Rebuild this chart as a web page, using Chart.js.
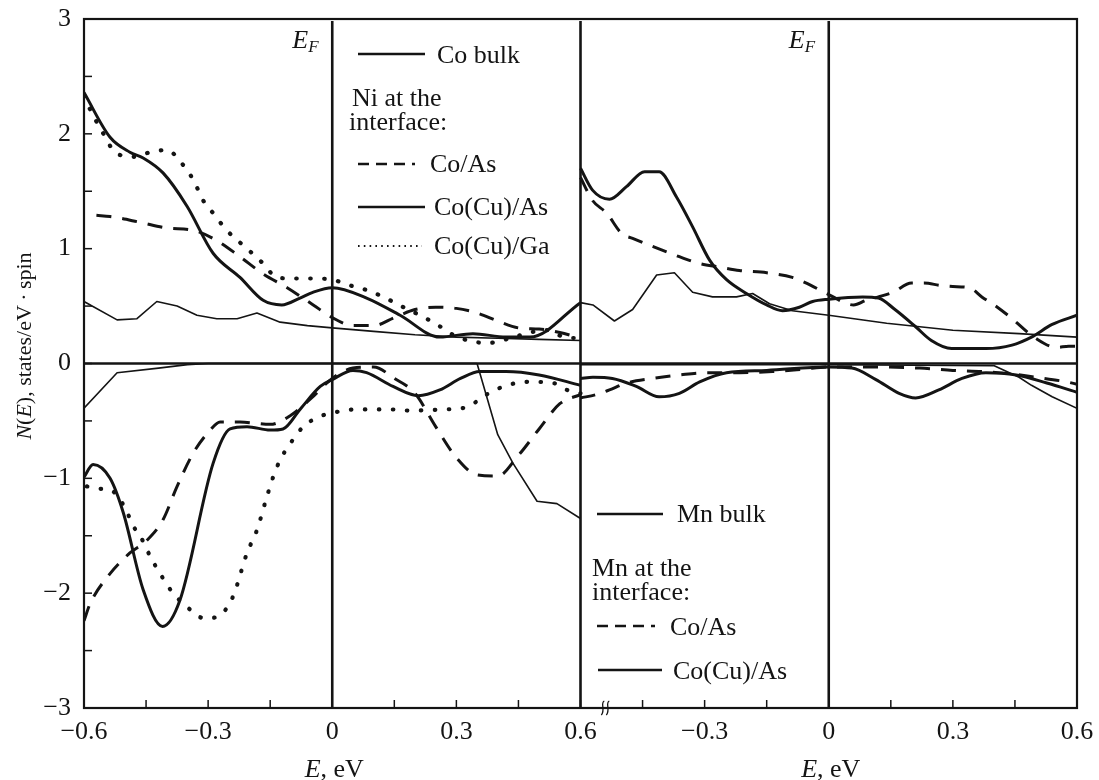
<!DOCTYPE html>
<html>
<head>
<meta charset="utf-8">
<script src="https://cdn.jsdelivr.net/npm/chart.js@4.4.1/dist/chart.umd.min.js"></script>
<style>
  html, body { margin: 0; padding: 0; background: #fff; }
  #wrap { width: 1099px; height: 780px; position: relative; }
</style>
</head>
<body>
<div id="wrap"><canvas id="dos"></canvas></div>
<script>
// Density of states N(E) (states/eV·spin); energies in eV relative to E_F.
// Left panel: Ni; right panel: Mn. Positive = spin up, negative = spin down.

// ---- Ni panel ----
const niBulkUpE = [-0.6, -0.52, -0.472, -0.424, -0.375, -0.327, -0.279, -0.23, -0.182, -0.126, -0.06, 0, 0.1, 0.2, 0.3, 0.4, 0.5, 0.6];
const niBulkUpN = [0.54, 0.38, 0.39, 0.54, 0.5, 0.42, 0.39, 0.39, 0.44, 0.36, 0.33, 0.31, 0.28, 0.25, 0.23, 0.22, 0.21, 0.2];
const niBulkDnE = [-0.6, -0.52, -0.42, -0.35, -0.3, 0.3, 0.35, 0.4, 0.437, 0.495, 0.543, 0.6];
const niBulkDnN = [-0.39, -0.08, -0.04, -0.01, 0, 0, 0, -0.62, -0.87, -1.2, -1.22, -1.35];

const niCoAsUpE = [-0.57, -0.537, -0.465, -0.4, -0.336, -0.279, -0.223, -0.167, -0.109, -0.046, 0, 0.05, 0.1, 0.15, 0.2, 0.25, 0.3, 0.35, 0.4, 0.45, 0.5, 0.55, 0.6];
const niCoAsUpN = [1.29, 1.28, 1.23, 1.18, 1.16, 1.07, 0.93, 0.78, 0.66, 0.51, 0.40, 0.33, 0.33, 0.40, 0.47, 0.49, 0.48, 0.44, 0.37, 0.31, 0.30, 0.27, 0.22];
const niCoAsDnE = [-0.6, -0.585, -0.537, -0.489, -0.448, -0.409, -0.375, -0.336, -0.295, -0.271, -0.223, -0.15, -0.1, -0.05, 0, 0.05, 0.1, 0.15, 0.2, 0.25, 0.3, 0.35, 0.4, 0.45, 0.5, 0.55, 0.6];
const niCoAsDnN = [-2.24, -2.09, -1.83, -1.65, -1.54, -1.36, -1.07, -0.78, -0.58, -0.51, -0.51, -0.53, -0.45, -0.3, -0.13, -0.04, -0.03, -0.13, -0.26, -0.55, -0.82, -0.97, -0.98, -0.8, -0.57, -0.35, -0.27];

const niCuAsUpE = [-0.6, -0.537, -0.489, -0.457, -0.409, -0.351, -0.288, -0.223, -0.167, -0.122, -0.078, -0.047, 0, 0.083, 0.164, 0.26, 0.34, 0.42, 0.478, 0.6];
const niCuAsUpN = [2.36, 1.97, 1.84, 1.79, 1.66, 1.37, 0.96, 0.75, 0.55, 0.51, 0.57, 0.62, 0.66, 0.57, 0.42, 0.23, 0.26, 0.23, 0.23, 0.53];
const niCuAsDnE = [-0.6, -0.578, -0.537, -0.505, -0.457, -0.41, -0.368, -0.288, -0.247, -0.206, -0.15, -0.119, -0.078, -0.029, 0, 0.05, 0.083, 0.147, 0.208, 0.26, 0.31, 0.357, 0.42, 0.5, 0.6];
const niCuAsDnN = [-0.99, -0.88, -1.0, -1.3, -1.97, -2.29, -2.06, -0.87, -0.57, -0.55, -0.58, -0.57, -0.4, -0.2, -0.14, -0.06, -0.08, -0.2, -0.28, -0.23, -0.13, -0.07, -0.07, -0.1, -0.19];

const niCuGaUpE = [-0.6, -0.585, -0.553, -0.525, -0.48, -0.44, -0.4, -0.363, -0.336, -0.312, -0.288, -0.255, -0.206, -0.167, -0.134, -0.094, -0.046, 0, 0.043, 0.083, 0.123, 0.172, 0.212, 0.253, 0.292, 0.34, 0.38, 0.43, 0.478, 0.52, 0.56, 0.6];
const niCuGaUpN = [2.33, 2.21, 2.0, 1.84, 1.8, 1.84, 1.86, 1.74, 1.6, 1.42, 1.31, 1.16, 1.0, 0.87, 0.75, 0.74, 0.74, 0.73, 0.68, 0.64, 0.58, 0.49, 0.42, 0.34, 0.25, 0.19, 0.18, 0.22, 0.27, 0.29, 0.23, 0.22];
const niCuGaDnE = [-0.593, -0.569, -0.537, -0.505, -0.48, -0.457, -0.44, -0.416, -0.387, -0.351, -0.308, -0.271, -0.24, -0.206, -0.182, -0.158, -0.143, -0.126, -0.102, -0.07, -0.029, 0, 0.058, 0.14, 0.188, 0.27, 0.325, 0.373, 0.422, 0.478, 0.534, 0.567, 0.6];
const niCuGaDnN = [-1.07, -1.09, -1.1, -1.23, -1.42, -1.55, -1.68, -1.83, -1.99, -2.12, -2.22, -2.19, -2.03, -1.65, -1.45, -1.16, -0.99, -0.84, -0.7, -0.55, -0.46, -0.43, -0.4, -0.4, -0.41, -0.4, -0.38, -0.27, -0.19, -0.16, -0.17, -0.23, -0.26];

// ---- Mn panel ----
const mnBulkUpE = [-0.6, -0.57, -0.518, -0.474, -0.416, -0.373, -0.329, -0.281, -0.223, -0.184, -0.143, -0.088, 0, 0.14, 0.3, 0.46, 0.6];
const mnBulkUpN = [0.53, 0.51, 0.37, 0.47, 0.77, 0.79, 0.62, 0.58, 0.58, 0.61, 0.52, 0.46, 0.42, 0.35, 0.29, 0.26, 0.23];
const mnBulkDnE = [-0.6, 0, 0.4, 0.46, 0.49, 0.54, 0.6];
const mnBulkDnN = [-0.01, -0.01, -0.02, -0.12, -0.19, -0.29, -0.39];

const mnCoAsUpE = [-0.6, -0.571, -0.537, -0.5, -0.474, -0.426, -0.361, -0.312, -0.264, -0.216, -0.15, -0.088, -0.054, 0, 0.06, 0.09, 0.12, 0.155, 0.2, 0.23, 0.27, 0.3, 0.34, 0.37, 0.4, 0.44, 0.5, 0.55, 0.58, 0.6];
const mnCoAsUpN = [1.62, 1.42, 1.31, 1.13, 1.09, 1.02, 0.93, 0.87, 0.84, 0.81, 0.79, 0.75, 0.70, 0.60, 0.51, 0.55, 0.58, 0.62, 0.70, 0.70, 0.68, 0.67, 0.66, 0.58, 0.51, 0.40, 0.22, 0.14, 0.15, 0.15];
const mnCoAsDnE = [-0.6, -0.561, -0.53, -0.489, -0.426, -0.361, -0.296, -0.216, -0.136, -0.063, 0, 0.1, 0.22, 0.3, 0.373, 0.44, 0.5, 0.575, 0.6];
const mnCoAsDnN = [-0.3, -0.27, -0.23, -0.17, -0.13, -0.1, -0.08, -0.08, -0.07, -0.05, -0.03, -0.03, -0.04, -0.06, -0.07, -0.09, -0.12, -0.16, -0.18];

const mnCuAsUpE = [-0.6, -0.571, -0.53, -0.489, -0.445, -0.41, -0.368, -0.329, -0.288, -0.247, -0.199, -0.15, -0.112, -0.071, -0.039, 0, 0.082, 0.12, 0.16, 0.21, 0.248, 0.297, 0.38, 0.443, 0.49, 0.54, 0.6];
const mnCuAsUpN = [1.70, 1.51, 1.43, 1.54, 1.67, 1.67, 1.45, 1.19, 0.90, 0.73, 0.61, 0.51, 0.46, 0.49, 0.54, 0.56, 0.58, 0.57, 0.47, 0.32, 0.2, 0.13, 0.13, 0.16, 0.23, 0.34, 0.42];
const mnCuAsDnE = [-0.6, -0.57, -0.523, -0.465, -0.41, -0.361, -0.312, -0.247, -0.15, 0, 0.056, 0.114, 0.17, 0.21, 0.266, 0.322, 0.38, 0.453, 0.527, 0.6];
const mnCuAsDnN = [-0.13, -0.12, -0.13, -0.2, -0.29, -0.26, -0.16, -0.08, -0.06, -0.03, -0.04, -0.14, -0.26, -0.3, -0.23, -0.13, -0.08, -0.1, -0.17, -0.25];

// ---- axes ----
// The two panels share one continuous axis: Ni at 0..1.2, Mn at 1.2..2.4.
const panelShift = { ni: 0.6, mn: 1.8 };
const xTickValues = [0, 0.3, 0.6, 0.9, 1.2, 1.5, 1.8, 2.1, 2.4];
const xTickLabels = ['\u22120.6', '\u22120.3', '0', '0.3', '0.6', '\u22120.3', '0', '0.3', '0.6'];
const fermiLines = [0.6, 1.8];
const panelDivider = 1.2;

const INK = '#141414';
const SERIF = '"Liberation Serif", "DejaVu Serif", serif';

function pts(E, N, shift) { return E.map((e, i) => ({ x: e + shift, y: N[i] })); }

const styles = {
  bulk:   { borderWidth: 1.6, borderDash: [], tension: 0 },
  coAs:   { borderWidth: 3, borderDash: [15, 11], cubicInterpolationMode: 'monotone' },
  cuAs:   { borderWidth: 3, borderDash: [], cubicInterpolationMode: 'monotone' },
  cuGa:   { borderWidth: 4.2, borderDash: [0.5, 13.5], borderCapStyle: 'round', cubicInterpolationMode: 'monotone' }
};
function ds(label, data, st) {
  return Object.assign({ label, data, borderColor: INK, backgroundColor: INK, pointRadius: 0,
    fill: false, borderCapStyle: 'butt', borderJoinStyle: 'round' }, st);
}

const datasets = [
  ds('Co bulk ↑', pts(niBulkUpE, niBulkUpN, panelShift.ni), styles.bulk),
  ds('Co bulk ↓', pts(niBulkDnE, niBulkDnN, panelShift.ni), styles.bulk),
  ds('Ni Co/As ↑', pts(niCoAsUpE, niCoAsUpN, panelShift.ni), styles.coAs),
  ds('Ni Co/As ↓', pts(niCoAsDnE, niCoAsDnN, panelShift.ni), styles.coAs),
  ds('Ni Co(Cu)/As ↑', pts(niCuAsUpE, niCuAsUpN, panelShift.ni), styles.cuAs),
  ds('Ni Co(Cu)/As ↓', pts(niCuAsDnE, niCuAsDnN, panelShift.ni), styles.cuAs),
  ds('Ni Co(Cu)/Ga ↑', pts(niCuGaUpE, niCuGaUpN, panelShift.ni), styles.cuGa),
  ds('Ni Co(Cu)/Ga ↓', pts(niCuGaDnE, niCuGaDnN, panelShift.ni), styles.cuGa),
  ds('Mn bulk ↑', pts(mnBulkUpE, mnBulkUpN, panelShift.mn), styles.bulk),
  ds('Mn bulk ↓', pts(mnBulkDnE, mnBulkDnN, panelShift.mn), styles.bulk),
  ds('Mn Co/As ↑', pts(mnCoAsUpE, mnCoAsUpN, panelShift.mn), styles.coAs),
  ds('Mn Co/As ↓', pts(mnCoAsDnE, mnCoAsDnN, panelShift.mn), styles.coAs),
  ds('Mn Co(Cu)/As ↑', pts(mnCuAsUpE, mnCuAsUpN, panelShift.mn), styles.cuAs),
  ds('Mn Co(Cu)/As ↓', pts(mnCuAsDnE, mnCuAsDnN, panelShift.mn), styles.cuAs)
];

// Draw a run of text pieces (some italic) starting at x, returning the end x.
function drawRuns(ctx, runs, x, y, size) {
  for (const r of runs) {
    ctx.font = (r.italic ? 'italic ' : '') + (r.size || size) + 'px ' + SERIF;
    ctx.fillText(r.t, x, y + (r.dy || 0));
    x += ctx.measureText(r.t).width;
  }
  return x;
}
function runsWidth(ctx, runs, size) {
  let w = 0;
  for (const r of runs) {
    ctx.font = (r.italic ? 'italic ' : '') + (r.size || size) + 'px ' + SERIF;
    w += ctx.measureText(r.t).width;
  }
  return w;
}
function sampleLine(ctx, x0, x1, y, kind) {
  ctx.save();
  ctx.strokeStyle = INK;
  if (kind === 'dash') { ctx.lineWidth = 2.4; ctx.setLineDash([11, 7]); }
  else if (kind === 'dot') { ctx.lineWidth = 1.8; ctx.setLineDash([1.6, 4.2]); }
  else { ctx.lineWidth = 2.4; }
  ctx.beginPath(); ctx.moveTo(x0, y); ctx.lineTo(x1, y); ctx.stroke();
  ctx.restore();
}

const decor = {
  id: 'decor',
  afterDatasetsDraw(chart) {
    const { ctx, chartArea: a, scales: { x, y } } = chart;
    ctx.save();
    ctx.strokeStyle = INK;
    ctx.fillStyle = INK;

    // zero line
    ctx.lineWidth = 2.6;
    ctx.beginPath();
    ctx.moveTo(a.left, y.getPixelForValue(0)); ctx.lineTo(a.right, y.getPixelForValue(0));
    ctx.stroke();

    // Fermi levels and panel divider
    ctx.lineWidth = 2.6;
    for (const v of fermiLines.concat([panelDivider])) {
      const px = x.getPixelForValue(v);
      ctx.beginPath(); ctx.moveTo(px, a.top + 2); ctx.lineTo(px, a.bottom); ctx.stroke();
    }

    // frame
    ctx.lineWidth = 2.2;
    ctx.strokeRect(a.left, a.top, a.right - a.left, a.bottom - a.top);

    // inward tick marks
    ctx.lineWidth = 1.5;
    for (let v = -3; v <= 3.001; v += 0.5) {
      const py = y.getPixelForValue(v);
      ctx.beginPath(); ctx.moveTo(a.left, py); ctx.lineTo(a.left + 8, py); ctx.stroke();
    }
    for (let i = 0; i <= 16; i++) {
      const px = x.getPixelForValue(i * 0.15);
      ctx.beginPath(); ctx.moveTo(px, a.bottom); ctx.lineTo(px, a.bottom - 8); ctx.stroke();
    }

    // axis break mark between the panels
    const bx = x.getPixelForValue(panelDivider + 0.06), by = a.bottom;
    ctx.lineWidth = 1.3;
    for (const dx of [-2.5, 2.5]) {
      ctx.beginPath();
      ctx.moveTo(bx + dx + 1.5, by - 7);
      ctx.bezierCurveTo(bx + dx - 3, by - 5, bx + dx + 3, by + 2, bx + dx - 1.5, by + 7);
      ctx.stroke();
    }

    // E_F labels
    ctx.textBaseline = 'alphabetic';
    ctx.textAlign = 'left';
    for (const v of fermiLines) {
      const px = x.getPixelForValue(v);
      drawRuns(ctx, [{ t: 'E', italic: true }, { t: 'F', italic: true, size: 17, dy: 4 }], px - 40, 48, 26);
    }

    // legends
    sampleLine(ctx, 358, 425, 54, 'solid');
    drawRuns(ctx, [{ t: 'Co bulk' }], 437, 63, 26);
    drawRuns(ctx, [{ t: 'Ni at the' }], 352, 106, 26);
    drawRuns(ctx, [{ t: 'interface:' }], 349, 130, 26);
    sampleLine(ctx, 358, 415, 164, 'dash');
    drawRuns(ctx, [{ t: 'Co/As' }], 430, 172, 26);
    sampleLine(ctx, 358, 425, 207, 'solid');
    drawRuns(ctx, [{ t: 'Co(Cu)/As' }], 434, 215, 26);
    sampleLine(ctx, 358, 422, 246, 'dot');
    drawRuns(ctx, [{ t: 'Co(Cu)/Ga' }], 434, 254, 26);

    sampleLine(ctx, 597, 663, 514, 'solid');
    drawRuns(ctx, [{ t: 'Mn bulk' }], 677, 522, 26);
    drawRuns(ctx, [{ t: 'Mn at the' }], 592, 576, 26);
    drawRuns(ctx, [{ t: 'interface:' }], 592, 600, 26);
    sampleLine(ctx, 597, 655, 626, 'dash');
    drawRuns(ctx, [{ t: 'Co/As' }], 670, 635, 26);
    sampleLine(ctx, 598, 662, 670, 'solid');
    drawRuns(ctx, [{ t: 'Co(Cu)/As' }], 673, 679, 26);

    // x axis titles, one under each panel's Fermi level
    const xt = [{ t: 'E', italic: true }, { t: ', eV' }];
    const xtw = runsWidth(ctx, xt, 26);
    for (const v of fermiLines) {
      drawRuns(ctx, xt, x.getPixelForValue(v) - xtw / 2 + 2, 777, 26);
    }

    // y axis title
    const yt = [{ t: 'N', italic: true }, { t: '(' }, { t: 'E', italic: true }, { t: '), states/eV\u2009\u00b7\u2009spin' }];
    const ytw = runsWidth(ctx, yt, 22);
    ctx.translate(31, 346);
    ctx.rotate(-Math.PI / 2);
    drawRuns(ctx, yt, -ytw / 2, 0, 22);
    ctx.restore();
  }
};

new Chart(document.getElementById('dos'), {
  type: 'line',
  data: { datasets },
  options: {
    responsive: true,
    maintainAspectRatio: false,
    animation: false,
    events: [],
    layout: { padding: { top: 19, right: 22, left: 0, bottom: 0 } },
    plugins: { legend: { display: false }, tooltip: { enabled: false } },
    scales: {
      x: {
        type: 'linear', min: 0, max: 2.4,
        grid: { display: false, drawTicks: false },
        border: { display: false },
        afterBuildTicks: (s) => { s.ticks = xTickValues.map(v => ({ value: v })); },
        afterFit: (s) => { s.height = 72; s.paddingLeft = 0; s.paddingRight = 0; },
        ticks: {
          autoSkip: false, maxRotation: 0, padding: 9, color: INK,
          font: { family: SERIF, size: 26 },
          callback: (v, i) => xTickLabels[i]
        }
      },
      y: {
        min: -3, max: 3,
        grid: { display: false, drawTicks: false },
        border: { display: false },
        afterFit: (s) => { s.width = 84; s.paddingTop = 0; s.paddingBottom = 0; },
        ticks: {
          stepSize: 1, padding: 13, color: INK,
          font: { family: SERIF, size: 26 },
          callback: (v) => (v < 0 ? '\u2212' + Math.abs(v) : String(v))
        }
      }
    }
  },
  plugins: [decor]
});
</script>
</body>
</html>
